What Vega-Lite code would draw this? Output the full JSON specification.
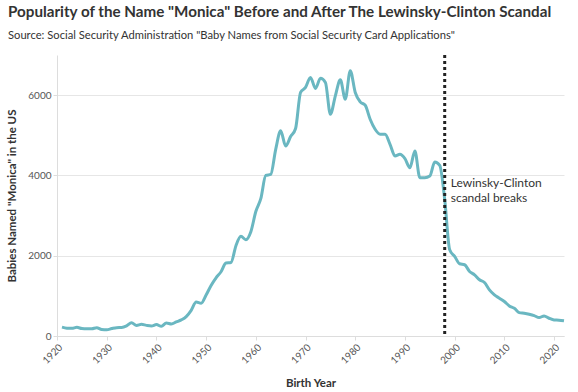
{
  "$schema": "https://vega.github.io/schema/vega-lite/v6.json",
  "width": 507,
  "height": 281,
  "autosize": "none",
  "padding": {"left": 57, "top": 55, "right": 14, "bottom": 56},
  "background": "white",
  "title": {
    "text": "Popularity of the Name \"Monica\" Before and After The Lewinsky-Clinton Scandal",
    "subtitle": "Source: Social Security Administration \"Baby Names from Social Security Card Applications\"",
    "anchor": "start",
    "frame": "group",
    "dx": -49,
    "offset": 12,
    "font": "Lato",
    "fontSize": 15.2,
    "fontWeight": "bold",
    "color": "#333333",
    "subtitleFont": "Lato",
    "subtitleFontSize": 11.2,
    "subtitleColor": "#333333",
    "subtitlePadding": 10
  },
  "config": {
    "view": {"stroke": null},
    "font": "Lato",
    "axis": {
      "labelFont": "Lato",
      "titleFont": "Lato",
      "labelColor": "#555555",
      "titleColor": "#333333",
      "labelFontSize": 10,
      "titleFontSize": 11.5,
      "titleFontWeight": "bold",
      "domainColor": "#dddddd",
      "tickColor": "#dddddd",
      "gridColor": "#e6e6e6"
    }
  },
  "data": {
    "values": [
      {"year": 1921, "count": 220},
      {"year": 1922, "count": 195},
      {"year": 1923, "count": 190},
      {"year": 1924, "count": 215},
      {"year": 1925, "count": 185},
      {"year": 1926, "count": 178},
      {"year": 1927, "count": 180},
      {"year": 1928, "count": 208},
      {"year": 1929, "count": 160},
      {"year": 1930, "count": 155},
      {"year": 1931, "count": 185},
      {"year": 1932, "count": 208},
      {"year": 1933, "count": 210},
      {"year": 1934, "count": 250},
      {"year": 1935, "count": 330},
      {"year": 1936, "count": 262},
      {"year": 1937, "count": 290},
      {"year": 1938, "count": 265},
      {"year": 1939, "count": 250},
      {"year": 1940, "count": 285},
      {"year": 1941, "count": 240},
      {"year": 1942, "count": 325},
      {"year": 1943, "count": 300},
      {"year": 1944, "count": 350},
      {"year": 1945, "count": 400},
      {"year": 1946, "count": 483},
      {"year": 1947, "count": 640},
      {"year": 1948, "count": 845},
      {"year": 1949, "count": 815},
      {"year": 1950, "count": 1020},
      {"year": 1951, "count": 1260},
      {"year": 1952, "count": 1450},
      {"year": 1953, "count": 1600},
      {"year": 1954, "count": 1817},
      {"year": 1955, "count": 1830},
      {"year": 1956, "count": 2250},
      {"year": 1957, "count": 2483},
      {"year": 1958, "count": 2400},
      {"year": 1959, "count": 2600},
      {"year": 1960, "count": 3100},
      {"year": 1961, "count": 3420},
      {"year": 1962, "count": 4000},
      {"year": 1963, "count": 4025},
      {"year": 1964, "count": 4650},
      {"year": 1965, "count": 5110},
      {"year": 1966, "count": 4733},
      {"year": 1967, "count": 4967},
      {"year": 1968, "count": 5170},
      {"year": 1969, "count": 6067},
      {"year": 1970, "count": 6192},
      {"year": 1971, "count": 6442},
      {"year": 1972, "count": 6167},
      {"year": 1973, "count": 6420},
      {"year": 1974, "count": 6317},
      {"year": 1975, "count": 5525},
      {"year": 1976, "count": 5983},
      {"year": 1977, "count": 6383},
      {"year": 1978, "count": 5900},
      {"year": 1979, "count": 6608},
      {"year": 1980, "count": 6067},
      {"year": 1981, "count": 5833},
      {"year": 1982, "count": 5750},
      {"year": 1983, "count": 5400},
      {"year": 1984, "count": 5150},
      {"year": 1985, "count": 5025},
      {"year": 1986, "count": 5025},
      {"year": 1987, "count": 4775},
      {"year": 1988, "count": 4483},
      {"year": 1989, "count": 4525},
      {"year": 1990, "count": 4417},
      {"year": 1991, "count": 4192},
      {"year": 1992, "count": 4608},
      {"year": 1993, "count": 3942},
      {"year": 1994, "count": 3942},
      {"year": 1995, "count": 3983},
      {"year": 1996, "count": 4333},
      {"year": 1997, "count": 4250},
      {"year": 1998, "count": 3400},
      {"year": 1999, "count": 2150},
      {"year": 2000, "count": 1983},
      {"year": 2001, "count": 1800},
      {"year": 2002, "count": 1775},
      {"year": 2003, "count": 1608},
      {"year": 2004, "count": 1525},
      {"year": 2005, "count": 1400},
      {"year": 2006, "count": 1333},
      {"year": 2007, "count": 1150},
      {"year": 2008, "count": 1025},
      {"year": 2009, "count": 942},
      {"year": 2010, "count": 858},
      {"year": 2011, "count": 750},
      {"year": 2012, "count": 692},
      {"year": 2013, "count": 583},
      {"year": 2014, "count": 567},
      {"year": 2015, "count": 542},
      {"year": 2016, "count": 508},
      {"year": 2017, "count": 458},
      {"year": 2018, "count": 500},
      {"year": 2019, "count": 442},
      {"year": 2020, "count": 400},
      {"year": 2021, "count": 395},
      {"year": 2022, "count": 380}
    ]
  },
  "layer": [
    {
      "mark": {"type": "line", "color": "#6ab7c1", "strokeWidth": 3, "interpolate": "monotone"},
      "encoding": {
        "x": {
          "field": "year",
          "type": "quantitative",
          "scale": {"domain": [1920, 2022], "nice": false, "zero": false},
          "axis": {
            "title": "Birth Year",
            "format": "d",
            "values": [1920, 1930, 1940, 1950, 1960, 1970, 1980, 1990, 2000, 2010, 2020],
            "labelAngle": -45,
            "grid": false,
            "tickSize": 4,
            "labelPadding": 2,
            "titlePadding": 12
          }
        },
        "y": {
          "field": "count",
          "type": "quantitative",
          "scale": {"domain": [0, 7000], "nice": false},
          "axis": {
            "title": "Babies Named \"Monica\" in the US",
            "format": "d",
            "values": [0, 2000, 4000, 6000],
            "tickSize": 4,
            "labelPadding": 2,
            "titlePadding": 10
          }
        }
      }
    },
    {
      "data": {"values": [{"year": 1998}]},
      "mark": {"type": "rule", "color": "#222222", "strokeWidth": 3, "strokeDash": [3, 3]},
      "encoding": {
        "x": {"field": "year", "type": "quantitative"}
      }
    },
    {
      "data": {"values": [{"year": 1998, "count": 3800, "label": ["Lewinsky-Clinton", "scandal breaks"]}]},
      "mark": {"type": "text", "align": "left", "baseline": "middle", "dx": 6, "font": "Lato", "fontSize": 12, "color": "#333333", "lineHeight": 15},
      "encoding": {
        "x": {"field": "year", "type": "quantitative"},
        "y": {"field": "count", "type": "quantitative"},
        "text": {"field": "label"}
      }
    }
  ]
}
